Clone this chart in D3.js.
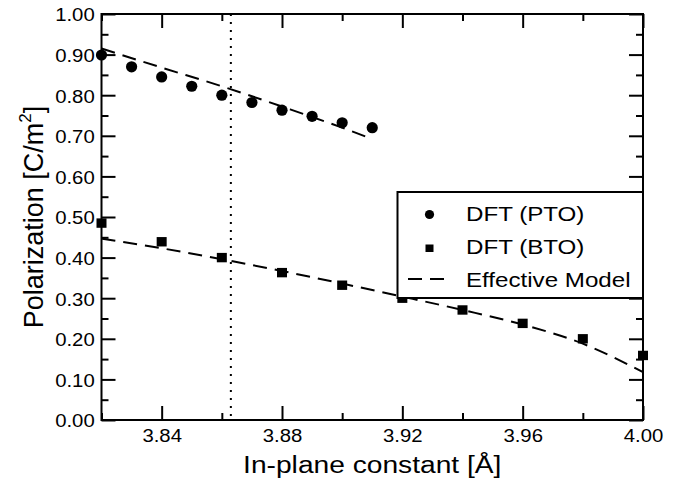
<!doctype html>
<html>
<head>
<meta charset="utf-8">
<script src="https://d3js.org/d3.v7.min.js"></script>
<style>
  * { margin: 0; padding: 0; }
  body { background: #fff; }
  svg text { font-family: "Liberation Sans", Arial, Helvetica, sans-serif; fill: #000; }
</style>
</head>
<body>
<div id="chart"></div>
<script>
// data
var ptoX = [3.82, 3.83, 3.84, 3.85, 3.86, 3.87, 3.88, 3.89, 3.90, 3.91];
var ptoP = [0.899, 0.870, 0.845, 0.822, 0.800, 0.782, 0.763, 0.748, 0.732, 0.720];
var btoX = [3.82, 3.84, 3.86, 3.88, 3.90, 3.92, 3.94, 3.96, 3.98, 4.00];
var btoP = [0.485, 0.439, 0.400, 0.363, 0.332, 0.300, 0.271, 0.238, 0.200, 0.159];
// effective model curves
var modelPtoX = [3.82, 3.84, 3.86, 3.88, 3.90, 3.91];
var modelPtoP = [0.915, 0.868, 0.822, 0.772, 0.720, 0.692];
var modelBtoX = [3.82, 3.84, 3.86, 3.88, 3.90, 3.92, 3.94, 3.96, 3.98, 4.00];
var modelBtoP = [0.447, 0.423, 0.396, 0.367, 0.336, 0.304, 0.271, 0.235, 0.188, 0.118];
var refX = 3.863; // dotted line
var xMajor = [3.84, 3.88, 3.92, 3.96, 4.00];
var xMinor = [3.82, 3.86, 3.90, 3.94, 3.98];
var yMajor = [0, 0.1, 0.2, 0.3, 0.4, 0.5, 0.6, 0.7, 0.8, 0.9, 1.0];
var yMinor = [0.05, 0.15, 0.25, 0.35, 0.45, 0.55, 0.65, 0.75, 0.85, 0.95];
var legendLabels = ["DFT (PTO)", "DFT (BTO)", "Effective Model"];

var W = 683, H = 479;
var L = 101.5, R = 643, T = 14, B = 420;
var sx = 1.13; // the figure is stretched sideways a bit

var svg = d3.select("#chart").append("svg").attr("width", W).attr("height", H);
var x = d3.scaleLinear().domain([3.82, 4.00]).range([L, R]);
var y = d3.scaleLinear().domain([0, 1]).range([B, T]);

function styleAxis(g) {
  g.selectAll("path").remove();
  g.selectAll("line").attr("stroke", "#000").attr("stroke-width", 2);
}

// bottom
svg.append("g").attr("transform", "translate(0," + B + ")")
  .call(d3.axisBottom(x).tickValues(xMajor).tickFormat(d3.format(".2f")).tickSizeInner(-14).tickSizeOuter(0).tickPadding(9))
  .call(styleAxis)
  .selectAll("text").attr("font-size", 18).attr("transform", "scale(" + sx + ",1)");
svg.append("g").attr("transform", "translate(0," + B + ")")
  .call(d3.axisBottom(x).tickValues(xMinor).tickFormat("").tickSizeInner(-7).tickSizeOuter(0))
  .call(styleAxis);
// top
svg.append("g").attr("transform", "translate(0," + T + ")")
  .call(d3.axisTop(x).tickValues(xMajor).tickFormat("").tickSizeInner(-14).tickSizeOuter(0))
  .call(styleAxis);
svg.append("g").attr("transform", "translate(0," + T + ")")
  .call(d3.axisTop(x).tickValues(xMinor).tickFormat("").tickSizeInner(-7).tickSizeOuter(0))
  .call(styleAxis);
// left
svg.append("g").attr("transform", "translate(" + L + ",0)")
  .call(d3.axisLeft(y).tickValues(yMajor).tickFormat(d3.format(".2f")).tickSizeInner(-14).tickSizeOuter(0).tickPadding(6))
  .call(styleAxis)
  .selectAll("text").attr("font-size", 18).attr("dy", "0.38em").attr("transform", "scale(" + sx + ",1)");
svg.append("g").attr("transform", "translate(" + L + ",0)")
  .call(d3.axisLeft(y).tickValues(yMinor).tickFormat("").tickSizeInner(-7).tickSizeOuter(0))
  .call(styleAxis);
// right
svg.append("g").attr("transform", "translate(" + R + ",0)")
  .call(d3.axisRight(y).tickValues(yMajor).tickFormat("").tickSizeInner(-14).tickSizeOuter(0))
  .call(styleAxis);
svg.append("g").attr("transform", "translate(" + R + ",0)")
  .call(d3.axisRight(y).tickValues(yMinor).tickFormat("").tickSizeInner(-7).tickSizeOuter(0))
  .call(styleAxis);

// frame
svg.append("rect").attr("x", L).attr("y", T).attr("width", R - L).attr("height", B - T)
  .attr("fill", "none").attr("stroke", "#000").attr("stroke-width", 2);

// dotted reference line
svg.append("line").attr("x1", x(refX)).attr("x2", x(refX)).attr("y1", y(1)).attr("y2", y(0))
  .attr("stroke", "#000").attr("stroke-width", 2).attr("stroke-dasharray", "2,6");

// model lines
var line = d3.line().x(function (d) { return x(d[0]); }).y(function (d) { return y(d[1]); }).curve(d3.curveMonotoneX);
[[modelPtoX, modelPtoP], [modelBtoX, modelBtoP]].forEach(function (m) {
  svg.append("path").datum(d3.zip(m[0], m[1])).attr("d", line)
    .attr("fill", "none").attr("stroke", "#000").attr("stroke-width", 2).attr("stroke-dasharray", "14,8");
});

// points
svg.selectAll(".pto").data(d3.zip(ptoX, ptoP)).enter().append("circle")
  .attr("cx", function (d) { return x(d[0]); }).attr("cy", function (d) { return y(d[1]); })
  .attr("r", 5.6).attr("fill", "#000");
svg.selectAll(".bto").data(d3.zip(btoX, btoP)).enter().append("rect")
  .attr("x", function (d) { return x(d[0]) - 5; }).attr("y", function (d) { return y(d[1]) - 4.7; })
  .attr("width", 10).attr("height", 9.4).attr("fill", "#000");

// legend
var lg = svg.append("g");
lg.append("rect").attr("x", 397.5).attr("y", 192).attr("width", R - 397.5).attr("height", 106)
  .attr("fill", "#fff").attr("stroke", "#000").attr("stroke-width", 2);
lg.append("circle").attr("cx", 429.5).attr("cy", 214.5).attr("r", 4.6).attr("fill", "#000");
lg.append("rect").attr("x", 425.5).attr("y", 244.5).attr("width", 8).attr("height", 7.5).attr("fill", "#000");
lg.append("line").attr("x1", 408).attr("x2", 448).attr("y1", 279).attr("y2", 279)
  .attr("stroke", "#000").attr("stroke-width", 2).attr("stroke-dasharray", "14,8");
[220.5, 254, 287].forEach(function (by, i) {
  lg.append("text").attr("transform", "translate(466," + by + ") scale(1.15,1)")
    .attr("font-size", 21).text(legendLabels[i]);
});

// axis titles
svg.append("text").attr("transform", "translate(" + ((L + R) / 2) + ",473) scale(1.15,1)")
  .attr("text-anchor", "middle").attr("font-size", 24.5).text("In-plane constant [Å]");
var yt = svg.append("text").attr("transform", "translate(43," + ((T + B) / 2) + ") rotate(-90)")
  .attr("text-anchor", "middle").attr("font-size", 27);
yt.append("tspan").text("Polarization [C/m");
yt.append("tspan").attr("font-size", 17).attr("dy", -12).text("2");
yt.append("tspan").attr("dy", 12).text("]");
</script>
</body>
</html>
